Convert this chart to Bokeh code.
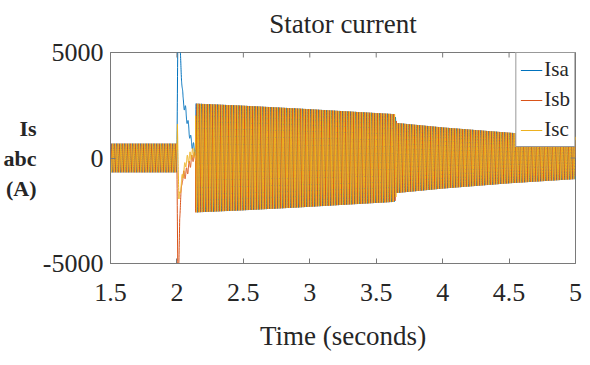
import numpy as np
from bokeh.plotting import figure
from bokeh.models import Legend, LegendItem, LinearAxis, FixedTicker, Range1d
from bokeh.embed import file_html
from bokeh.resources import INLINE

# ---------------- data ----------------
x_ticks = [1.5, 2, 2.5, 3, 3.5, 4, 4.5, 5]
y_ticks = [-5000, 0, 5000]
y_tick_labels = ["-5000", "0", "5000"]
series_names = ["Isa", "Isb", "Isc"]
series_colors = ["#0072BD", "#D95319", "#EDB120"]
phase_shift_deg = [0, -120, 120]

freq_hz = 50
t_start, t_end, t_step = 1.5, 5.0, 0.0005
fault_t = 2.0          # transient start
clear_t = 2.14         # large oscillation starts
pre_amp = 680          # amplitude before the transient (A)
ripple_amp = 220       # ripple during the transient (A)

# amplitude envelope after the transient (A)
post_t = [2.14, 2.50, 2.90, 3.64, 3.655, 4.00, 4.50, 5.00]
post_amp = [2580, 2480, 2350, 2080, 1660, 1450, 1200, 1000]

# transient (offset) key points for each phase
isa_tr_t = [2.000, 2.008, 2.025, 2.046, 2.061, 2.083, 2.106, 2.136]
isa_tr_v = [0, 6500, 4900, 2700, 2370, 1600, 800, 330]
isb_tr_t = [2.000, 2.008, 2.015, 2.021, 2.041, 2.071, 2.096, 2.121]
isb_tr_v = [0, -6500, -5000, -2660, -900, -700, -300, 50]
isc_tr_t = [2.000, 2.004, 2.015, 2.030, 2.045, 2.070, 2.096, 2.120]
isc_tr_v = [0, 1650, -2050, -1300, -800, -150, 50, 250]

tr_points = [(isa_tr_t, isa_tr_v), (isb_tr_t, isb_tr_v), (isc_tr_t, isc_tr_v)]

# ---------------- build waveforms ----------------
t = np.arange(t_start, t_end + t_step / 2, t_step)
w = 2 * np.pi * freq_hz


def phase_current(shift_deg, tr_t, tr_v):
    s = np.sin(w * t + np.deg2rad(shift_deg))
    out = np.empty_like(t)
    pre = t < fault_t
    tr = (t >= fault_t) & (t < clear_t)
    post = t >= clear_t
    out[pre] = pre_amp * s[pre]
    out[tr] = np.interp(t[tr], tr_t, tr_v) + ripple_amp * s[tr]
    out[post] = np.interp(t[post], post_t, post_amp) * s[post]
    return out


FONT = "Liberation Serif"
AX_COLOR = "#7a7a7a"
TXT_COLOR = "#262626"

W, H = 590, 365

p = figure(width=W, height=H, x_range=Range1d(1.5, 5), y_range=Range1d(-5000, 5000),
           output_backend="svg", toolbar_location=None,
           min_border_left=107, min_border_right=15, min_border_top=52, min_border_bottom=102,
           x_axis_location=None, y_axis_location=None)
p.grid.visible = False
p.outline_line_color = AX_COLOR
p.outline_line_width = 1
p.background_fill_color = "white"
p.border_fill_color = "white"

renderers = []
for name, col, sh, (tt, vv) in zip(series_names, series_colors, phase_shift_deg, tr_points):
    y = phase_current(sh, tt, vv)
    r = p.line(t, y, line_color=col, line_width=1)
    renderers.append(r)


def style_axis(ax):
    ax.axis_line_color = AX_COLOR
    ax.major_tick_line_color = AX_COLOR
    ax.major_tick_in = 5
    ax.major_tick_out = 0
    ax.minor_tick_in = 0
    ax.minor_tick_out = 0
    ax.major_label_text_font = FONT
    ax.major_label_text_font_size = "26px"
    ax.major_label_text_color = TXT_COLOR
    ax.axis_label_text_font = FONT
    ax.axis_label_text_color = TXT_COLOR
    ax.axis_label_text_font_style = "normal"


def label_only_axis(ax):
    ax.axis_line_color = None
    ax.major_tick_line_color = None
    ax.minor_tick_line_color = None
    ax.axis_label_text_font = FONT
    ax.axis_label_text_color = TXT_COLOR


# bottom axis with tick labels and "Time (seconds)"
xb = LinearAxis(ticker=FixedTicker(ticks=x_ticks))
style_axis(xb)
xb.major_label_standoff = 20
xb.axis_label = "Time (seconds)"
xb.axis_label_text_font_size = "27px"
xb.axis_label_standoff = 17
p.add_layout(xb, "below")

# title drawn as the label of a bare axis above the box
xt = LinearAxis(ticker=FixedTicker(ticks=[]))
label_only_axis(xt)
xt.axis_label = "Stator current"
xt.axis_label_text_font_style = "normal"
xt.axis_label_text_font_size = "27px"
xt.axis_label_standoff = 14
p.add_layout(xt, "above")

# left axis with tick labels
yl = LinearAxis(ticker=FixedTicker(ticks=y_ticks))
style_axis(yl)
yl.major_label_overrides = dict(zip(y_ticks, y_tick_labels))
yl.major_label_standoff = 7
p.add_layout(yl, "left")

# outer bare axis carrying the quantity label, stacked in the narrow left strip
yo = LinearAxis(ticker=FixedTicker(ticks=[]))
label_only_axis(yo)
yo.axis_label = "Is\nabc\n(A)"
yo.axis_label_orientation = "horizontal"
yo.axis_label_text_font_size = "22px"
yo.axis_label_text_font_style = "bold"
yo.axis_label_standoff = 3
p.add_layout(yo, "left")

# mirrored inside ticks on the top and right edges of the box
tick_len_y = 10000 / 211 * 5
tick_len_x = 3.5 / 468 * 5
p.segment(x0=x_ticks, y0=[5000] * len(x_ticks), x1=x_ticks, y1=[5000 - tick_len_y] * len(x_ticks),
          line_color=AX_COLOR, line_width=1)
p.segment(x0=[5] * len(y_ticks), y0=y_ticks, x1=[5 - tick_len_x] * len(y_ticks), y1=y_ticks,
          line_color=AX_COLOR, line_width=1)

legend = Legend(items=[LegendItem(label=n, renderers=[r]) for n, r in zip(series_names, renderers)],
                location="top_right")
legend.margin = 0
legend.border_line_color = "#333333"
legend.border_line_width = 1
legend.background_fill_alpha = 1
legend.label_text_font = FONT
legend.label_text_font_size = "21px"
legend.label_text_color = TXT_COLOR
legend.glyph_width = 22
legend.glyph_height = 20
legend.label_standoff = 2
legend.padding = 4
legend.spacing = 5
legend.label_height = 24
p.add_layout(legend)

open("out.html", "w").write(file_html(p, INLINE))
